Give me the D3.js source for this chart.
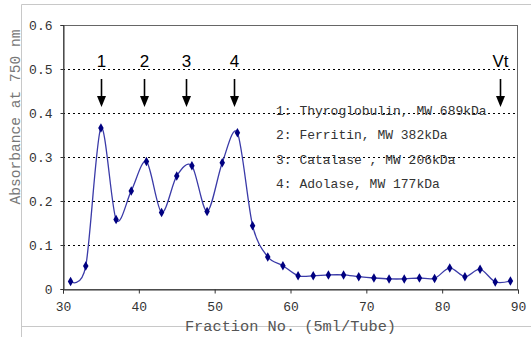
<!DOCTYPE html>
<html><head><meta charset="utf-8">
<script src="https://cdn.jsdelivr.net/npm/d3@7"></script>
<style>body{margin:0;background:#fff;}svg{display:block;}</style>
</head><body>
<script>
const fractions = [31,33,35,37,39,41,43,45,47,49,51,53,55,57,59,61,63,65,67,69,71,73,75,77,79,81,83,85,87,89];
const absorbance = [0.017,0.052,0.366,0.158,0.223,0.290,0.174,0.257,0.280,0.176,0.287,0.355,0.144,0.073,0.053,0.030,0.030,0.032,0.032,0.028,0.025,0.023,0.023,0.025,0.024,0.048,0.028,0.045,0.016,0.018];
const xTicks = [30,40,50,60,70,80,90];
const yTicks = [0,0.1,0.2,0.3,0.4,0.5,0.6];
const markerLabels = ["1","2","3","4","Vt"];
const markerFractions = [35.0,40.7,46.2,52.6,87.6];
const legendLines = ["1: Thyroglobulin, MW 689kDa","2: Ferritin, MW 382kDa","3: Catalase , MW 206kDa","4: Adolase, MW 177kDa"];

const W=531,H=337;
const m={l:63,r:13,t:25,b:48};
const svg=d3.select("body").append("svg").attr("width",W).attr("height",H);
const x=d3.scaleLinear().domain([30,90]).range([m.l,W-m.r]);
const y=d3.scaleLinear().domain([0,0.6]).range([H-m.b,m.t]);
const mono="'Liberation Mono','Courier New',monospace";

// outer chart frame
svg.append("path").attr("d",`M21.5,${H}V4.5H${W}M21.5,326.5H${W}`).attr("fill","none").attr("stroke","#c8c8c8").attr("stroke-width",1);

// gridlines
svg.append("g").selectAll("line").data(yTicks.filter(d=>d>0&&d<0.6)).join("line")
 .attr("x1",x(30)).attr("x2",x(90)).attr("y1",d=>Math.round(y(d))+0.5).attr("y2",d=>Math.round(y(d))+0.5)
 .attr("stroke","#000").attr("stroke-width",1).attr("stroke-dasharray","2,3");

// plot border
svg.append("rect").attr("x",x(30)+0.5).attr("y",Math.round(y(0.6))+0.5).attr("width",x(90)-x(30)-1).attr("height",y(0)-y(0.6))
 .attr("fill","none").attr("stroke","#666");

// axes
const xa=svg.append("g").attr("transform",`translate(0,${Math.round(y(0))+0.5})`)
 .call(d3.axisBottom(x).tickValues(xTicks).tickSize(4).tickPadding(8).tickFormat(d3.format("d")));
const ya=svg.append("g").attr("transform",`translate(${Math.round(x(30))+0.5},0)`)
 .call(d3.axisLeft(y).tickValues(yTicks).tickSize(3).tickPadding(6).tickFormat(d=>d===0?"0":d.toFixed(1)));
[xa,ya].forEach(g=>{g.select(".domain").attr("stroke","#333");g.selectAll(".tick line").attr("stroke","#333");
 g.selectAll("text").attr("font-family",mono).attr("font-size",13).attr("fill","#333");});
ya.selectAll(".tick text").attr("dx",-2);

// series line
svg.append("path").datum(fractions.map((f,i)=>[f,absorbance[i]]))
 .attr("d",d3.line().x(d=>x(d[0])).y(d=>y(d[1])).curve(d3.curveCardinal.tension(0.1)))
 .attr("fill","none").attr("stroke","#3a3aa8").attr("stroke-width",1.3);
svg.append("g").selectAll("path").data(fractions).join("path")
 .attr("transform",(d,i)=>`translate(${x(d)},${y(absorbance[i])})`)
 .attr("d",d3.symbol(d3.symbolDiamond,26)).attr("fill","#000080");

// arrows and labels
const arr=svg.append("g");
markerFractions.forEach((f,i)=>{
 const cx=Math.round(x(f))+0.5;
 arr.append("text").attr("x",cx).attr("y",67).attr("text-anchor","middle")
  .attr("font-family","'Liberation Sans',Arial,sans-serif").attr("font-size",17).attr("fill","#000").text(markerLabels[i]);
 arr.append("line").attr("x1",cx).attr("x2",cx).attr("y1",79).attr("y2",97).attr("stroke","#000").attr("stroke-width",1.6);
 arr.append("path").attr("d",`M${cx-4.5},96L${cx+4.5},96L${cx},107Z`).attr("fill","#000");
});

// legend text
svg.append("g").selectAll("text").data(legendLines).join("text")
 .attr("x",276).attr("y",(d,i)=>115+i*24.3).attr("font-family",mono).attr("font-size",13).attr("fill","#333")
 .attr("xml:space","preserve").style("white-space","pre").text(d=>d);

// axis titles
svg.append("text").attr("x",(x(30)+x(90))/2).attr("y",331).attr("text-anchor","middle")
 .attr("font-family",mono).attr("font-size",15.3).attr("fill","#555").text("Fraction No. (5ml/Tube)");
svg.append("text").attr("transform",`translate(20,${(y(0)+y(0.6))/2-40}) rotate(-90)`).attr("text-anchor","middle")
 .attr("font-family",mono).attr("font-size",14.6).attr("fill","#777").text("Absorbance at 750 nm");
</script>
</body></html>
